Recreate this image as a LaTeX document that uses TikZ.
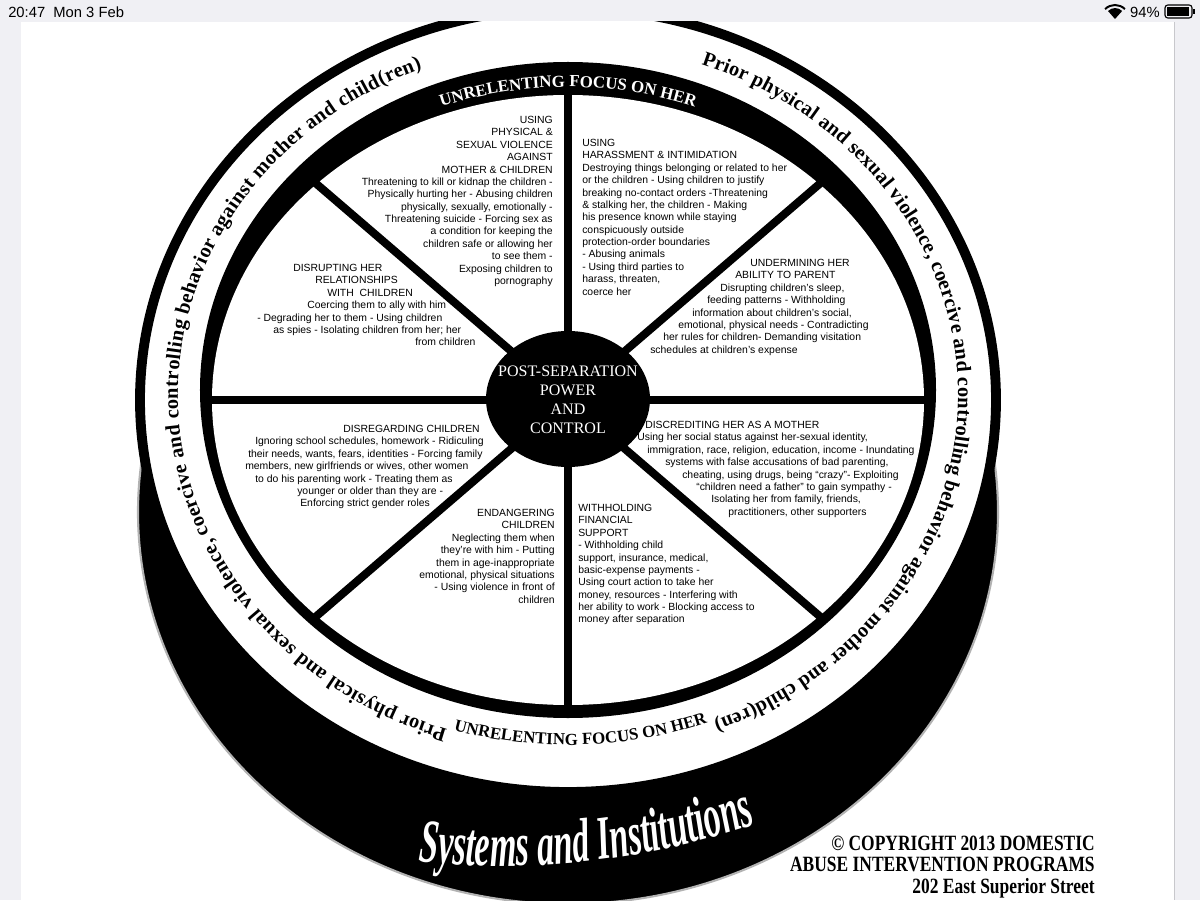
\documentclass[tikz,border=0pt]{standalone}
\usepackage{fontspec}
\usetikzlibrary{decorations.text}
\setmainfont{Liberation Serif}
\newfontfamily\wedgefont{Liberation Sans}
\newfontfamily\sysfamily[FakeStretch=0.55]{Liberation Serif}
\newfontfamily\copyfamily[FakeStretch=0.8]{Liberation Serif}
\definecolor{harmaa}{HTML}{F0F0F4}
\definecolor{reunaharmaa}{HTML}{C8C8CC}
\newlength{\pxu}\setlength{\pxu}{0.025cm}
\newcommand{\indpx}[1]{\hspace*{#1\pxu}}
\newcommand{\ringfont}{\bfseries\fontsize{14.5}{14.5}\selectfont}
\newcommand{\bandfont}{\bfseries\fontsize{12}{12}\selectfont}
\newcommand{\sysfont}{\sysfamily\bfseries\itshape\fontsize{44}{44}\selectfont}

\begin{document}
\begin{tikzpicture}[x=0.025cm,y=0.025cm,
    wedgetext/.style={font=\wedgefont\fontsize{7.4}{8.8}\selectfont,inner sep=0pt},
    spoke/.style={line width=5.7pt},
    statustext/.style={font=\wedgefont\fontsize{10.5}{12}\selectfont,inner sep=0pt}]
\useasboundingbox (-568,-500) rectangle (632,400);
\fill[harmaa] (-568,-500) rectangle (632,400);
\begin{scope}
  \clip (-547,-500) rectangle (606,378);
  \fill[white] (-547,-500) rectangle (606,378);
  % cylinder side and rim
  \filldraw[draw=gray!60,line width=1.5pt] (0,-112) ellipse [x radius=430, y radius=392];
  \draw[line width=7pt,fill=white] (0,0) ellipse [x radius=428, y radius=392];
  \fill (0,10) ellipse [x radius=368, y radius=328];
  \fill[white] (0,0) ellipse [x radius=356, y radius=305];
  \foreach \a in {0,45,...,315}
    \draw[spoke] (0,0) -- (\a:362 and 311);
  \fill (0,1) ellipse [x radius=82, y radius=68];
  \node[font=\fontsize{11.4}{13.5}\selectfont,text=white,align=center] (hub) at (0,0)
    {POST-SEPARATION\\POWER\\AND\\CONTROL};
  % ring texts
  \path[shift={(0,5)},decorate,decoration={text along path,text align=fit to path,
    text={|\ringfont|Prior physical and sexual violence, coercive and controlling behavior against mother and child(ren)}}]
    (252:390 and 352) arc[start angle=252,end angle=112,x radius=390,y radius=352];
  \path[shift={(0,5)},decorate,decoration={text along path,text align=fit to path,
    text={|\ringfont|Prior physical and sexual violence, coercive and controlling behavior against mother and child(ren)}}]
    (70:390 and 352) arc[start angle=70,end angle=-68,x radius=390,y radius=352];
  \path[decorate,decoration={text along path,text align=center,
    text={|\bandfont\color{white}|UNRELENTING FOCUS ON HER}}]
    (140:362 and 313) arc[start angle=140,end angle=40,x radius=362,y radius=313];
  \path[decorate,decoration={text along path,text align=center,
    text={|\bandfont|UNRELENTING FOCUS ON HER}}]
    (232:392 and 345) arc[start angle=232,end angle=312,x radius=392,y radius=345];
  \path[shift={(-68,334)},decorate,decoration={text along path,text align=center,
    text={|\sysfont\color{white}|Systems and Institutions}}]
    (262:800) arc[start angle=262,end angle=290.8,radius=800];
  % wedges
  \node[wedgetext,anchor=north east,align=right] (violence) at (-15,284)
    {USING\\PHYSICAL \&\\SEXUAL VIOLENCE\\AGAINST\\MOTHER \& CHILDREN\\Threatening to kill or kidnap the children -\\Physically hurting her - Abusing children\\physically, sexually, emotionally -\\Threatening suicide - Forcing sex as\\a condition for keeping the\\children safe or allowing her\\to see them -\\Exposing children to\\pornography};
  \node[wedgetext,anchor=north west,align=left] (harassment) at (14,261)
    {USING\\HARASSMENT \& INTIMIDATION\\Destroying things belonging or related to her\\or the children - Using children to justify\\breaking no-contact orders -Threatening\\\& stalking her, the children - Making\\his presence known while staying\\conspicuously outside\\protection-order boundaries\\- Abusing animals\\- Using third parties to\\harass, threaten,\\coerce her};
  \node[wedgetext,anchor=north west,align=left] (undermining) at (82,141)
    {\indpx{100}UNDERMINING HER\\\indpx{85}ABILITY TO PARENT\\\indpx{70}Disrupting children’s sleep,\\\indpx{57}feeding patterns - Withholding\\\indpx{42}information about children’s social,\\\indpx{28}emotional, physical needs - Contradicting\\\indpx{13}her rules for children- Demanding visitation\\schedules at children’s expense};
  \node[wedgetext,anchor=north west,align=left] (disrupting) at (-311,136)
    {\indpx{36}DISRUPTING HER\\\indpx{58}RELATIONSHIPS\\\indpx{70}WITH\ \ CHILDREN\\\indpx{50}Coercing them to ally with him\\- Degrading her to them - Using children\\\indpx{16}as spies - Isolating children from her; her\\\indpx{158}from children};
  \node[wedgetext,anchor=north west,align=left] (disregarding) at (-323,-25)
    {\indpx{98}DISREGARDING CHILDREN\\\indpx{10}Ignoring school schedules, homework - Ridiculing\\\indpx{3}their needs, wants, fears, identities - Forcing family\\members, new girlfriends or wives, other women\\\indpx{10}to do his parenting work - Treating them as\\\indpx{52}younger or older than they are -\\\indpx{55}Enforcing strict gender roles};
  \node[wedgetext,anchor=north west,align=left] (discrediting) at (69,-21)
    {\indpx{8}DISCREDITING HER AS A MOTHER\\Using her social status against her-sexual identity,\\\indpx{10}immigration, race, religion, education, income - Inundating\\\indpx{28}systems with false accusations of bad parenting,\\\indpx{45}cheating, using drugs, being “crazy”- Exploiting\\\indpx{59}“children need a father” to gain sympathy -\\\indpx{74}Isolating her from family, friends,\\\indpx{91}practitioners, other supporters};
  \node[wedgetext,anchor=north east,align=right] (endangering) at (-13,-109)
    {ENDANGERING\\CHILDREN\\Neglecting them when\\they’re with him - Putting\\them in age-inappropriate\\emotional, physical situations\\- Using violence in front of\\children};
  \node[wedgetext,anchor=north west,align=left] (withholding) at (10,-104)
    {WITHHOLDING\\FINANCIAL\\SUPPORT\\- Withholding child\\support, insurance, medical,\\basic-expense payments -\\Using court action to take her\\money, resources - Interfering with\\her ability to work - Blocking access to\\money after separation};
  \node[font=\copyfamily\bfseries\fontsize{15.5}{15}\selectfont,anchor=east,align=right,inner sep=0pt] (copyright) at (527,-467)
    {© COPYRIGHT 2013 DOMESTIC\\ABUSE INTERVENTION PROGRAMS\\202 East Superior Street};
\end{scope}
\draw[reunaharmaa] (606,378) -- (606,-500);
% status bar
\node[statustext,anchor=west] (clock) at (-560,388) {20:47\ \ Mon 3 Feb};
\node[statustext,anchor=east] (charge) at (592,388) {94\%};
\fill (547,381) -- (540,389) arc[start angle=135,end angle=45,radius=10] -- cycle;
\foreach \r in {14}
  \draw[line width=1.4pt] (547,381) ++(135:\r) arc[start angle=135,end angle=45,radius=\r];
\draw[line width=0.8pt,rounded corners=2pt] (597,382) rectangle (624,395);
\fill (599,384) rectangle (621,393);
\fill (625,386) rectangle (627,391);
\end{tikzpicture}
\end{document}
